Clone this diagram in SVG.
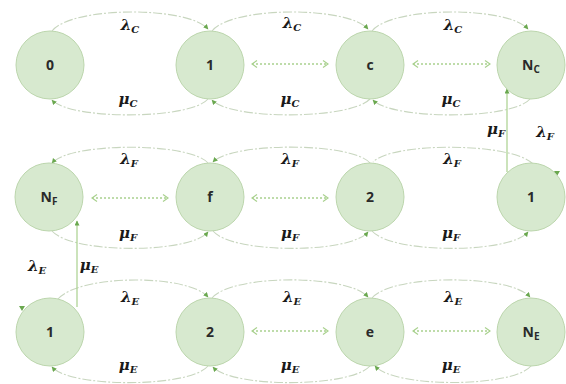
<svg xmlns="http://www.w3.org/2000/svg" width="566" height="384" viewBox="0 0 566 384">
<style>
.node circle{fill:#d7e9cf;stroke:#bcd6ad;stroke-width:1}
.node text{font-family:"Open Sans","Liberation Sans",sans-serif;font-weight:700;font-size:14px;fill:#2a2a2a;text-anchor:middle}
.arc{fill:none;stroke:#c8d6bf;stroke-width:1.1;stroke-dasharray:9 2 2 2}
.dot{fill:none;stroke:#a9d18e;stroke-width:1.5;stroke-dasharray:2 2}
.vert{fill:none;stroke:#a9d18e;stroke-width:1.2}
.lbl{font-family:"DejaVu Serif","Liberation Serif",serif;font-style:italic;font-weight:bold;font-size:15px;fill:#1a1a1a;text-anchor:middle}
.sub{font-size:10px}
</style>
<defs>
<marker id="ah" markerUnits="userSpaceOnUse" markerWidth="6" markerHeight="6" refX="4.5" refY="2.5" orient="auto">
<path d="M0,0 L5,2.5 L0,5 z" fill="#6aa84f"/>
</marker>
<marker id="ch" markerUnits="userSpaceOnUse" markerWidth="7" markerHeight="8" refX="6" refY="4" orient="auto-start-reverse">
<path d="M1,0.5 L6,4 L1,7.5" fill="none" stroke="#a9d18e" stroke-width="1.2"/>
</marker>
</defs>
<g id="connectors">
<path class="arc" marker-end="url(#ah)" d="M52,31 C72,6 188,6 208,29"/>
<path class="arc" marker-end="url(#ah)" d="M212,31 C232,6 348,6 368,29"/>
<path class="arc" marker-end="url(#ah)" d="M372,31 C392,6 508,6 528,29"/>
<path class="arc" marker-end="url(#ah)" d="M208,99 C190,120 70,120 52,100"/>
<path class="arc" marker-end="url(#ah)" d="M370,99 C350,120 230,120 212,100"/>
<path class="arc" marker-end="url(#ah)" d="M530,99 C512,120 392,120 373,100"/>
<path class="arc" marker-end="url(#ah)" d="M208,163 C190,142 70,142 52,163"/>
<path class="arc" marker-end="url(#ah)" d="M370,163 C352,142 232,142 213,162"/>
<path class="arc" d="M533,164 C512,142 392,142 373,162"/>
<path class="arc" marker-end="url(#ah)" d="M52,231 C72,254 190,254 208,232"/>
<path class="arc" marker-end="url(#ah)" d="M213,231 C232,254 350,254 368,232"/>
<path class="arc" marker-end="url(#ah)" d="M372,231 C392,254 510,254 528,232"/>
<path class="arc" marker-end="url(#ah)" d="M58,299 C80,274 188,274 208,297"/>
<path class="arc" marker-end="url(#ah)" d="M212,298 C232,274 348,274 368,297"/>
<path class="arc" marker-end="url(#ah)" d="M372,298 C392,274 510,274 530,297"/>
<path class="arc" marker-end="url(#ah)" d="M208,366 C190,388 70,388 52,367"/>
<path class="arc" marker-end="url(#ah)" d="M370,366 C350,388 232,388 213,367"/>
<path class="arc" marker-end="url(#ah)" d="M531,366 C512,388 394,388 375,366"/>
<path class="dot" marker-start="url(#ch)" marker-end="url(#ch)" d="M252,64 L328,64"/>
<path class="dot" marker-start="url(#ch)" marker-end="url(#ch)" d="M413,64 L490,64"/>
<path class="dot" marker-start="url(#ch)" marker-end="url(#ch)" d="M92,198 L168,198"/>
<path class="dot" marker-start="url(#ch)" marker-end="url(#ch)" d="M252,198 L328,198"/>
<path class="dot" marker-start="url(#ch)" marker-end="url(#ch)" d="M252,331 L328,331"/>
<path class="dot" marker-start="url(#ch)" marker-end="url(#ch)" d="M413,331 L490,331"/>
<path class="vert" marker-end="url(#ah)" d="M507,172 L507,89"/>
<path class="vert" marker-end="url(#ah)" d="M77,307 L77,221"/>
<path d="M554,171 L560,171 L557,176 z" fill="#6aa84f"/>
<path d="M19,306 L25,306 L22,311 z" fill="#6aa84f"/>
</g>
<g id="n-c0" class="node"><circle cx="50" cy="65" r="34"/><text x="50" y="70">0</text></g>
<g id="n-c1" class="node"><circle cx="210" cy="65" r="34"/><text x="210" y="70">1</text></g>
<g id="n-cc" class="node"><circle cx="370" cy="65" r="34"/><text x="370" y="70">c</text></g>
<g id="n-cN" class="node"><circle cx="531" cy="65" r="34"/><text x="531" y="70">N<tspan font-size="10" dy="3">C</tspan></text></g>
<g id="n-fN" class="node"><circle cx="49" cy="197" r="34"/><text x="49" y="202">N<tspan font-size="10" dy="3">F</tspan></text></g>
<g id="n-ff" class="node"><circle cx="210" cy="197" r="34"/><text x="210" y="202">f</text></g>
<g id="n-f2" class="node"><circle cx="370" cy="197" r="34"/><text x="370" y="202">2</text></g>
<g id="n-f1" class="node"><circle cx="531" cy="197" r="34"/><text x="531" y="202">1</text></g>
<g id="n-e1" class="node"><circle cx="50" cy="332" r="34"/><text x="50" y="337">1</text></g>
<g id="n-e2" class="node"><circle cx="210" cy="332" r="34"/><text x="210" y="337">2</text></g>
<g id="n-ee" class="node"><circle cx="370" cy="332" r="34"/><text x="370" y="337">e</text></g>
<g id="n-eN" class="node"><circle cx="531" cy="332" r="34"/><text x="531" y="337">N<tspan font-size="10" dy="3">E</tspan></text></g>
<g id="labels">
<text class="lbl" x="130" y="30">λ<tspan class="sub" dy="3">C</tspan></text>
<text class="lbl" x="292" y="28">λ<tspan class="sub" dy="3">C</tspan></text>
<text class="lbl" x="453" y="30">λ<tspan class="sub" dy="3">C</tspan></text>
<text class="lbl" x="128" y="104">μ<tspan class="sub" dy="3">C</tspan></text>
<text class="lbl" x="290" y="104">μ<tspan class="sub" dy="3">C</tspan></text>
<text class="lbl" x="451" y="104">μ<tspan class="sub" dy="3">C</tspan></text>
<text class="lbl" x="129" y="164">λ<tspan class="sub" dy="3">F</tspan></text>
<text class="lbl" x="290" y="164">λ<tspan class="sub" dy="3">F</tspan></text>
<text class="lbl" x="452" y="164">λ<tspan class="sub" dy="3">F</tspan></text>
<text class="lbl" x="128" y="238">μ<tspan class="sub" dy="3">F</tspan></text>
<text class="lbl" x="290" y="238">μ<tspan class="sub" dy="3">F</tspan></text>
<text class="lbl" x="451" y="238">μ<tspan class="sub" dy="3">F</tspan></text>
<text class="lbl" x="496" y="134">μ<tspan class="sub" dy="3">F</tspan></text>
<text class="lbl" x="545" y="137">λ<tspan class="sub" dy="3">F</tspan></text>
<text class="lbl" x="130" y="302">λ<tspan class="sub" dy="3">E</tspan></text>
<text class="lbl" x="292" y="302">λ<tspan class="sub" dy="3">E</tspan></text>
<text class="lbl" x="453" y="302">λ<tspan class="sub" dy="3">E</tspan></text>
<text class="lbl" x="128" y="370">μ<tspan class="sub" dy="3">E</tspan></text>
<text class="lbl" x="290" y="370">μ<tspan class="sub" dy="3">E</tspan></text>
<text class="lbl" x="451" y="370">μ<tspan class="sub" dy="3">E</tspan></text>
<text class="lbl" x="37" y="271">λ<tspan class="sub" dy="3">E</tspan></text>
<text class="lbl" x="89" y="270">μ<tspan class="sub" dy="3">E</tspan></text>
</g>
</svg>
